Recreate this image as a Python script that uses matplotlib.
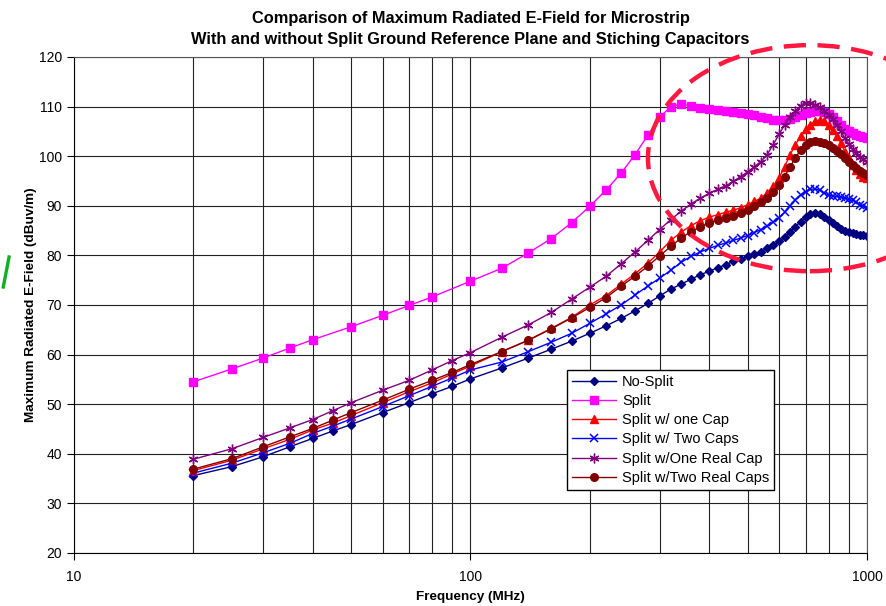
import matplotlib
matplotlib.use('Agg')
import matplotlib.pyplot as plt
from matplotlib.ticker import FixedLocator, LogLocator, NullFormatter
from matplotlib.patches import Ellipse
from matplotlib.lines import Line2D

plt.rcParams['font.family'] = ['Liberation Sans', 'DejaVu Sans']

# frequencies (MHz)
freq = [20, 25, 30, 35, 40, 45, 50, 60, 70, 80, 90, 100,
        120, 140, 160, 180, 200, 220, 240, 260, 280, 300,
        320, 340, 360, 380, 400, 420, 440, 460, 480, 500,
        520, 540, 560, 580, 600, 620, 640, 660, 680, 700,
        720, 740, 760, 780, 800, 820, 840, 860, 880, 900,
        920, 940, 960, 980, 1000]
# the Split series has no 45 / 90 MHz points
freq_split = [f for f in freq if f not in (45, 90)]

no_split = [35.6, 37.4, 39.4, 41.4, 43.1, 44.6, 45.9, 48.3, 50.3, 52.1, 53.6, 55.1,
            57.3, 59.3, 61.1, 62.7, 64.3, 65.8, 67.3, 68.8, 70.3, 71.8,
            73.2, 74.2, 75.2, 76.1, 76.8, 77.5, 78.1, 78.8, 79.3, 79.8,
            80.3, 80.7, 81.4, 82.0, 82.8, 83.7, 84.7, 85.8, 86.8, 87.7,
            88.3, 88.6, 88.4, 87.8, 87.1, 86.5, 85.9, 85.4, 85.0, 84.7,
            84.5, 84.3, 84.2, 84.1, 84.0]

split = [54.5, 57.1, 59.3, 61.3, 63.0, 65.6, 67.9, 69.9, 71.6, 74.8,
         77.4, 80.5, 83.4, 86.6, 89.9, 93.2, 96.6, 100.3, 104.2, 107.8,
         110.0, 110.5, 110.1, 109.7, 109.5, 109.3, 109.2, 109.0, 108.8, 108.5,
         108.2, 107.9, 107.6, 107.3, 107.2, 107.2, 107.4, 107.9, 108.3, 108.7,
         109.0, 109.2, 109.2, 109.0, 108.5, 107.9, 107.0, 106.2, 105.5, 105.0,
         104.6, 104.2, 104.0, 103.8, 103.6]

one_cap = [36.6, 38.7, 41.0, 42.9, 44.8, 46.2, 47.7, 50.3, 52.5, 54.3, 56.1, 57.7,
           60.6, 62.9, 65.3, 67.5, 70.0, 71.9, 74.2, 76.3, 78.4, 80.7,
           83.0, 84.7, 86.0, 87.0, 87.7, 88.2, 88.7, 89.1, 89.6, 90.2,
           90.9, 91.5, 92.6, 93.9, 95.6, 97.9, 100.3, 102.3, 104.1, 105.4,
           106.3, 107.0, 107.2, 107.0, 106.3, 105.3, 104.1, 102.6, 100.9, 99.6,
           98.3, 97.2, 96.4, 95.9, 95.6]

two_caps = [36.1, 38.1, 40.2, 42.1, 44.1, 45.6, 47.0, 49.5, 51.7, 53.6, 55.3, 56.9,
            58.5, 60.6, 62.5, 64.3, 66.3, 68.2, 70.0, 72.0, 73.8, 75.4,
            77.0, 78.6, 79.8, 80.7, 81.4, 82.0, 82.5, 83.0, 83.5, 84.0,
            84.6, 85.2, 85.9, 86.7, 87.6, 88.7, 90.0, 91.2, 92.2, 92.8,
            93.3, 93.4, 93.1, 92.6, 92.2, 92.0, 91.9, 91.7, 91.5, 91.3,
            91.1, 90.7, 90.2, 89.9, 89.5]

one_real_cap = [38.9, 41.0, 43.3, 45.2, 46.9, 48.7, 50.3, 52.8, 54.8, 56.9, 58.8, 60.4,
                63.5, 66.0, 68.5, 71.2, 73.6, 75.8, 78.3, 80.7, 83.0, 85.2,
                87.2, 88.9, 90.4, 91.5, 92.5, 93.3, 94.0, 94.9, 95.9, 96.8,
                97.9, 98.9, 100.3, 102.3, 104.4, 106.3, 107.8, 109.1, 110.2, 110.8,
                110.8, 110.4, 109.9, 109.1, 108.3, 107.4, 106.3, 105.0, 103.6, 102.4,
                101.4, 100.6, 99.9, 99.4, 98.9]

two_real_caps = [36.9, 39.0, 41.4, 43.4, 45.1, 46.8, 48.3, 50.8, 53.0, 54.8, 56.4, 58.0,
                 60.6, 62.9, 65.2, 67.4, 69.5, 71.5, 73.8, 75.8, 77.8, 79.9,
                 81.8, 83.5, 84.8, 85.7, 86.5, 87.1, 87.5, 88.0, 88.5, 89.2,
                 89.9, 90.7, 91.5, 92.8, 94.2, 95.9, 97.9, 99.6, 101.3, 102.3,
                 102.8, 103.0, 102.9, 102.6, 102.2, 101.7, 101.1, 100.5, 99.7, 98.9,
                 98.3, 97.6, 97.0, 96.6, 96.2]

fig = plt.figure(figsize=(8.87, 6.06), dpi=100)
ax = fig.add_axes([0.0834, 0.0875, 0.894, 0.8185])

ax.plot(freq, no_split, color='#000080', marker='D', markersize=4.5, lw=1.0, label='No-Split')
ax.plot(freq_split, split, color='#FF00FF', marker='s', markersize=5.5, lw=1.0, label='Split')
ax.plot(freq, one_cap, color='#FF0000', marker='^', markersize=6, lw=1.0, label='Split w/ one Cap')
ax.plot(freq, two_caps, color='#0000FF', marker='x', markersize=6, mew=1.1, lw=1.0, label='Split w/ Two Caps')
ax.plot(freq, one_real_cap, color='#800080', marker=(6, 2, 0), markersize=7, mew=1.0, lw=1.0,
        label='Split w/One Real Cap')
ax.plot(freq, two_real_caps, color='#800000', marker='o', markersize=5.5, lw=1.0,
        label='Split w/Two Real Caps')

ax.set_xscale('log')
ax.set_xlim(10, 1000)
ax.set_ylim(20, 120)
ax.xaxis.set_major_locator(FixedLocator([10, 100, 1000]))
ax.set_xticklabels(['10', '100', '1000'])
ax.xaxis.set_minor_locator(LogLocator(base=10, subs=range(2, 10)))
ax.xaxis.set_minor_formatter(NullFormatter())
ax.set_yticks(range(20, 121, 10))

ax.grid(True, which='major', axis='y', color='#222222', lw=0.8)
ax.grid(True, which='both', axis='x', color='#222222', lw=0.8)
ax.set_axisbelow(True)
ax.tick_params(axis='both', which='major', labelsize=10, length=5, direction='out', color='black')
ax.tick_params(axis='x', which='major', pad=7)
ax.tick_params(axis='x', which='minor', length=0)
for s in ax.spines.values():
    s.set_color('#555555')
    s.set_linewidth(0.8)
ax.spines['left'].set_color('black')
ax.spines['bottom'].set_color('black')

ax.set_xlabel('Frequency (MHz)', fontsize=9.7, fontweight='bold', labelpad=5)
ax.set_ylabel('Maximum Radiated E-Field (dBuv/m)', fontsize=9.7, fontweight='bold', labelpad=1.5)
ax.set_title('Comparison of Maximum Radiated E-Field for Microstrip\n'
             'With and without Split Ground Reference Plane and Stiching Capacitors',
             fontsize=11.8, fontweight='bold', linespacing=1.5, pad=9)

leg = ax.legend(loc='lower left', bbox_to_anchor=(0.622, 0.127), fontsize=10.5,
                frameon=True, fancybox=False, edgecolor='black', framealpha=1,
                handlelength=3.0, borderpad=0.35, labelspacing=0.36, handletextpad=0.4,
                borderaxespad=0)
leg.get_frame().set_linewidth(1.0)

# hand-drawn highlight around the resonance region
ell = Ellipse((0.913, 0.739), 0.365, 0.373, transform=fig.transFigure, fill=False,
              edgecolor='#FF1940', lw=3.2, linestyle=(0, (5, 2.6)), clip_on=False, zorder=10)
fig.add_artist(ell)
mark = Line2D([0.0102, 0.0037], [1 - 257 / 606, 1 - 287 / 606], transform=fig.transFigure,
              color='#10B020', lw=2.4)
fig.add_artist(mark)

fig.savefig('out.png', dpi=100)
